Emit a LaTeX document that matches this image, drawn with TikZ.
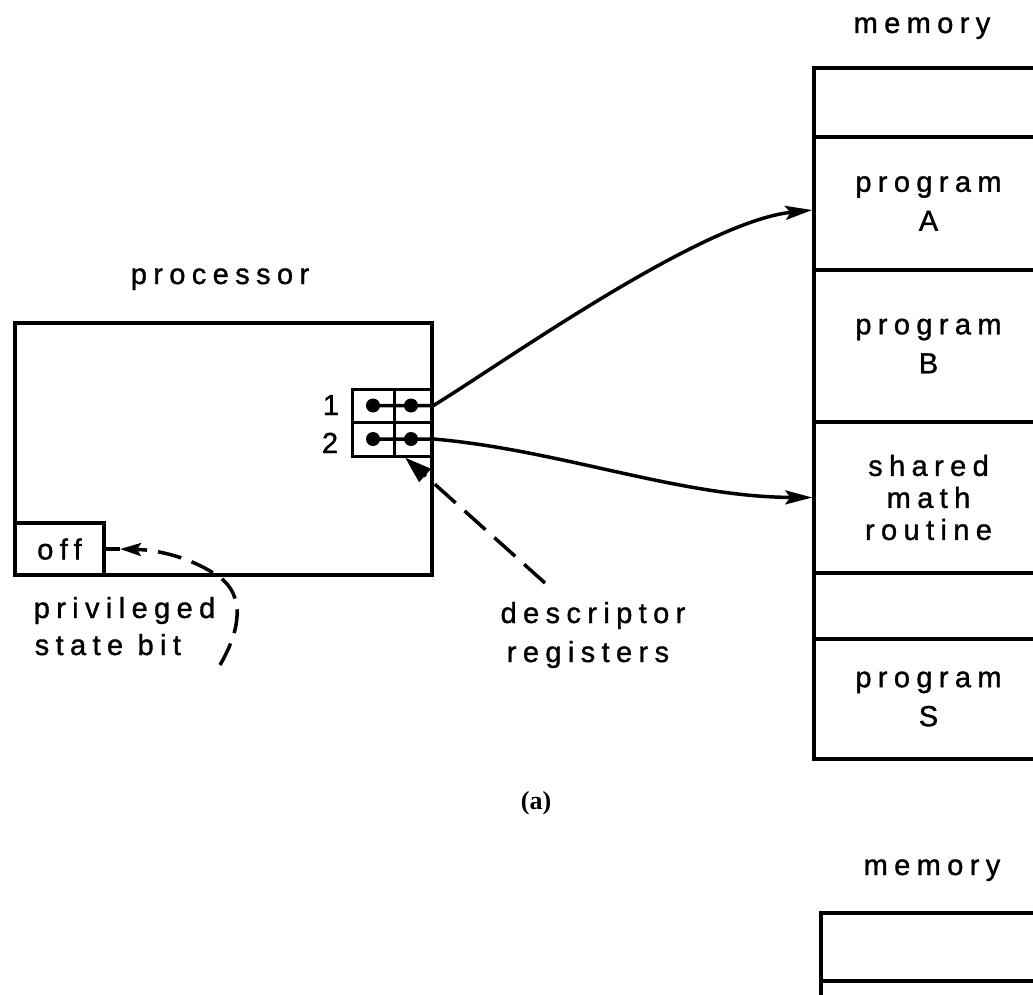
\documentclass[tikz,border=0pt]{standalone}
\usepackage{fontspec}
\newfontfamily\lettering[LetterSpace=22,FakeBold=1.2]{Liberation Sans}
\newfontfamily\capfont{Liberation Serif}
\usetikzlibrary{arrows.meta}
\begin{document}
\begin{tikzpicture}[x=1pt,y=-1pt,
  line width=3.5pt,
  lfont/.style={font=\lettering\fontsize{29}{32}\selectfont},
  lbl/.style={lfont, inner sep=0pt},
  box/.style={draw, rectangle, inner sep=0pt},
  memcell/.style={box, lfont, minimum width=229pt, align=center},
  regcell/.style={box, line width=3pt},
  dot/.style={circle, fill, inner sep=0pt, minimum size=14pt},
  tip/.style={-{Stealth[length=27pt,width=14pt,inset=5pt]}},
  smalltip/.style={-{Stealth[length=21pt,width=13pt,inset=4pt]}},
  dashline/.style={dash pattern=on 24pt off 11pt},
  dashline2/.style={dash pattern=on 28pt off 12pt},
]
\useasboundingbox (0,0) rectangle (1033,995);
\clip (0,0) rectangle (1033,995);

% processor
\node[lbl, anchor=base] (proclbl) at (220,284) {processor};
\node[box, minimum width=417pt, minimum height=252pt] (proc) at (223.5,449) {};
\node[box, lfont, minimum width=89pt, minimum height=52pt] (off) at (59.5,549) {off};

% registers
\node[regcell, minimum width=42pt, minimum height=33pt] (r1a) at (373,405.5) {};
\node[regcell, minimum width=38pt, minimum height=33pt] (r1b) at (413,405.5) {};
\node[regcell, minimum width=42pt, minimum height=34pt] (r2a) at (373,439) {};
\node[regcell, minimum width=38pt, minimum height=34pt] (r2b) at (413,439) {};
\node[lbl, anchor=base] (n1) at (331,415) {1};
\node[lbl, anchor=base] (n2) at (330,453) {2};
\node[dot] (d1a) at (373,405.5) {};
\node[dot] (d1b) at (411,405.5) {};
\node[dot] (d2a) at (373,439) {};
\node[dot] (d2b) at (411,439) {};

% memory (a)
\node[lbl, anchor=base] (memlbl) at (922,33) {memory};
\node[memcell, minimum height=69pt] (m0) at (928.5,102.5) {};
\node[memcell, minimum height=133pt] (mA) at (928.5,203.5) {program\\[7pt]A};
\node[memcell, minimum height=152pt] (mB) at (928.5,346) {program\\[7pt]B};
\node[memcell, minimum height=151pt] (mC) at (928.5,497.5) {shared\\math\\routine};
\node[memcell, minimum height=66pt] (m4) at (928.5,606) {};
\node[memcell, minimum height=120pt] (mS) at (928.5,699) {program\\[7pt]S};

% connectors
\draw[tip] (d1a.center) -- (r1b.east) .. controls (500,365) and (700,222) .. ([yshift=-6.5pt]mA.west);
\draw[tip] (d2a.center) -- (r2b.east) .. controls (560,450) and (680,497) .. (mC.west);

% labels with dashed pointers
\node[lbl, anchor=base west] (priv1) at (32,618) {privileged};
\node[lbl, anchor=base west] (priv2) at (33,655) {state bit};
\coordinate (pstart) at (220,665);
\coordinate (ptip) at (120,549);
\draw[dashline, smalltip] (pstart) .. controls (245,622) and (242,590) .. (215,574) .. controls (190,558) and (160,550) .. (ptip);
\draw (off.east) -- (ptip);

\node[lbl, anchor=base] (desc1) at (593,623) {descriptor};
\node[lbl, anchor=base] (desc2) at (588,662) {registers};
\coordinate (dstart) at (545,583);
\draw[dashline2, -{Triangle[length=27pt,width=17pt]}] (dstart) -- ([xshift=-8pt]r2b.south);

% caption
\node[font=\capfont\bfseries\fontsize{26}{28}\selectfont, inner sep=0pt, anchor=base] (cap) at (536,809) {(a)};

% memory (b), partially shown
\node[lbl, anchor=base] (memlbl2) at (932,875) {memory};
\node[memcell, minimum height=68pt] (n0) at (935.5,947) {};
\node[memcell, minimum height=60pt] (n1c) at (935.5,1011) {};
\end{tikzpicture}
\end{document}
